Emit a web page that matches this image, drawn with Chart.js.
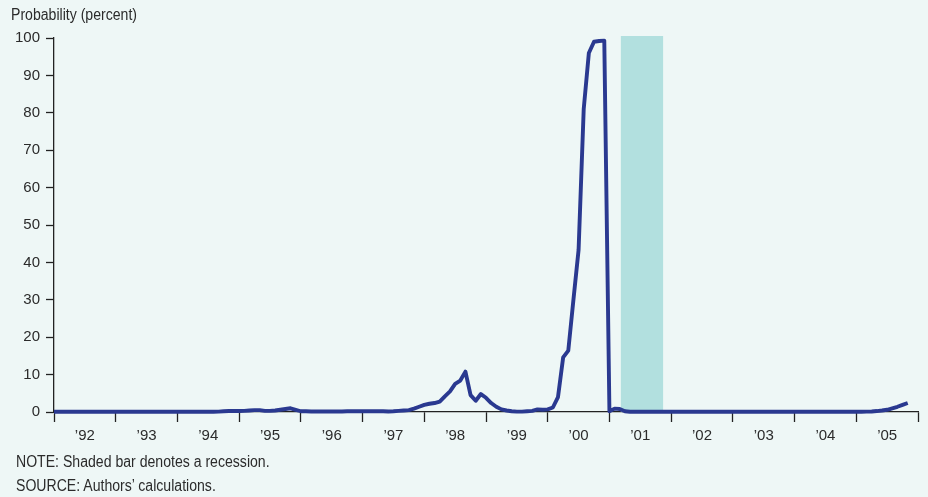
<!DOCTYPE html>
<html>
<head>
<meta charset="utf-8">
<script src="https://cdn.jsdelivr.net/npm/chart.js@4.4.0/dist/chart.umd.min.js"></script>
<style>
  html, body { margin: 0; padding: 0; background: #eef7f6; }
  #wrap { position: relative; width: 928px; height: 497px; }
  canvas { position: absolute; left: 0; top: 0; }
  .txt {
    position: absolute;
    font-family: 'Liberation Sans', Arial, sans-serif;
    font-size: 16px;
    line-height: 18px;
    color: #2b2b2b;
    white-space: nowrap;
    transform: scaleX(0.88);
    transform-origin: left top;
  }
</style>
</head>
<body>
<div id="wrap">
  <canvas id="chart" width="928" height="497"></canvas>
  <div class="txt" style="left:11px;top:6px">Probability (percent)</div>
  <div class="txt" style="left:16px;top:453px">NOTE: Shaded bar denotes a recession.</div>
  <div class="txt" style="left:16px;top:477px">SOURCE: Authors’ calculations.</div>
</div>
<script>
// monthly series, first value = January 1992
const startYear = 1992;
const probability = [
  0.05, 0.05, 0.05, 0.05, 0.05, 0.05, 0.05, 0.05, 0.05, 0.05, 0.05, 0.05, // 1992
  0.05, 0.05, 0.05, 0.05, 0.05, 0.05, 0.05, 0.05, 0.05, 0.05, 0.05, 0.05, // 1993
  0.05, 0.05, 0.05, 0.05, 0.05, 0.05, 0.05, 0.05, 0.1, 0.2, 0.25, 0.25,   // 1994
  0.25, 0.3, 0.4, 0.5, 0.5, 0.3, 0.3, 0.4, 0.6, 0.8, 1.0, 0.6,            // 1995
  0.2, 0.2, 0.15, 0.15, 0.15, 0.15, 0.15, 0.15, 0.15, 0.2, 0.2, 0.2,      // 1996
  0.2, 0.2, 0.2, 0.2, 0.2, 0.15, 0.2, 0.3, 0.4, 0.5, 0.9, 1.4,            // 1997
  1.9, 2.2, 2.4, 2.8, 4.2, 5.5, 7.5, 8.4, 10.8, 4.5, 3.0, 4.8,            // 1998
  3.8, 2.4, 1.4, 0.7, 0.4, 0.2, 0.1, 0.1, 0.2, 0.3, 0.7, 0.6,             // 1999
  0.7, 1.2, 4.0, 14.6, 16.4, 30, 43.3, 81, 96, 99, 99.2, 99.3,            // 2000
  0.2, 0.9, 0.8, 0.2, 0.05, 0.05, 0.05, 0.05, 0.05, 0.05, 0.05, 0.05,     // 2001
  0.05, 0.05, 0.05, 0.05, 0.05, 0.05, 0.05, 0.05, 0.05, 0.05, 0.05, 0.05, // 2002
  0.05, 0.05, 0.05, 0.05, 0.05, 0.05, 0.05, 0.05, 0.05, 0.05, 0.05, 0.05, // 2003
  0.05, 0.05, 0.05, 0.05, 0.05, 0.05, 0.05, 0.05, 0.05, 0.05, 0.05, 0.05, // 2004
  0.05, 0.05, 0.1, 0.15, 0.25, 0.4, 0.6, 1.0, 1.4, 1.9, 2.4               // 2005
];
const yearLabels = ['’92', '’93', '’94', '’95', '’96', '’97', '’98', '’99', '’00', '’01', '’02', '’03', '’04', '’05'];
const recession = [2001.185, 2001.87]; // Mar 2001 - Nov 2001
const yTicks = [0, 10, 20, 30, 40, 50, 60, 70, 80, 90, 100];

const points = probability.map((v, i) => ({ x: startYear + i / 12, y: v }));

const font = { family: "'Liberation Sans', Arial, sans-serif", size: 15 };
const inkColor = '#2b2b2b';

// shaded recession bar behind the line
const recessionPlugin = {
  id: 'recession',
  beforeDatasetsDraw(chart) {
    const { ctx, scales: { x, y } } = chart;
    const x0 = x.getPixelForValue(recession[0]);
    const x1 = x.getPixelForValue(recession[1]);
    const top = y.getPixelForValue(100);
    const bottom = y.getPixelForValue(0);
    ctx.save();
    ctx.fillStyle = '#b2e0df';
    ctx.fillRect(x0, top - 2, x1 - x0, bottom - top + 2);
    ctx.restore();
  }
};

const ctx = document.getElementById('chart').getContext('2d');
new Chart(ctx, {
  type: 'line',
  data: {
    datasets: [{
      data: points,
      borderColor: '#2a3990',
      borderWidth: 3.9,
      borderJoinStyle: 'round',
      pointRadius: 0,
      tension: 0,
      fill: false,
      clip: false
    }]
  },
  options: {
    responsive: false,
    animation: false,
    layout: { padding: { top: 38, right: 10, left: 0, bottom: 0 } },
    plugins: { legend: { display: false }, tooltip: { enabled: false } },
    scales: {
      x: {
        type: 'linear',
        min: startYear,
        max: startYear + yearLabels.length,
        afterBuildTicks: (scale) => {
          const t = [];
          for (let i = 0; i <= yearLabels.length; i++) {
            t.push({ value: startYear + i });
            if (i < yearLabels.length) t.push({ value: startYear + i + 0.5 });
          }
          scale.ticks = t;
        },
        afterFit: (scale) => { scale.height = 85; },
        ticks: {
          autoSkip: false,
          maxRotation: 0,
          padding: 5,
          font: font,
          color: inkColor,
          callback: (value) => Number.isInteger(value) ? '' : yearLabels[Math.floor(value) - startYear]
        },
        grid: {
          drawOnChartArea: false,
          tickLength: 10,
          tickWidth: 1.3,
          tickColor: (c) => (c.tick && Number.isInteger(c.tick.value)) ? '#222' : 'rgba(0,0,0,0)'
        },
        border: { color: '#222', width: 1.3 }
      },
      y: {
        min: 0,
        max: 100,
        afterBuildTicks: (scale) => { scale.ticks = yTicks.map(v => ({ value: v })); },
        afterFit: (scale) => { scale.width = 54; },
        ticks: { padding: 6, font: font, color: inkColor },
        grid: { drawOnChartArea: false, tickLength: 8, tickWidth: 1.3, tickColor: '#222' },
        border: { color: '#222', width: 1.3 }
      }
    }
  },
  plugins: [recessionPlugin]
});
</script>
</body>
</html>
